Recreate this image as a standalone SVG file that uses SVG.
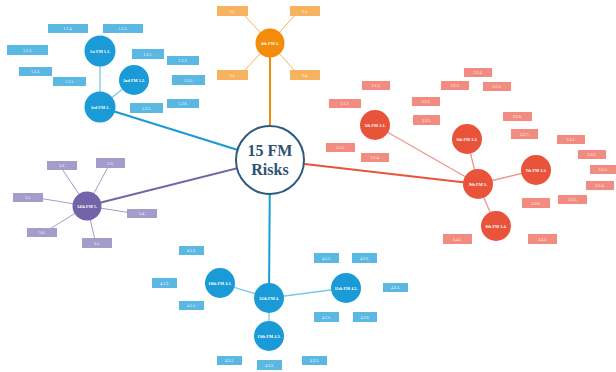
<svg xmlns="http://www.w3.org/2000/svg" width="616" height="372" viewBox="0 0 616 372">
<style>
.bg{fill:#ffffff}
.main{fill:none;stroke-width:2}
.sub{fill:none;stroke-width:1.3}
.cb{fill:#1a9bd7}.cr{fill:#e8533a}.co{fill:#f28c0a}.cp{fill:#7264a8}
.bb{fill:#5ab8e2}.br{fill:#f28b80}.bo{fill:#f7b25f}.bp{fill:#a59ccc}
.ct{font-family:"Liberation Serif",serif;font-weight:bold;font-size:4.3px;fill:#fff;text-anchor:middle;dominant-baseline:central}
.bt{font-family:"Liberation Serif",serif;font-size:4px;fill:#fff;text-anchor:middle;dominant-baseline:central}
.hub{fill:#fff;stroke:#2d5a80;stroke-width:2}
.ht{font-family:"Liberation Serif",serif;font-weight:bold;font-size:16px;fill:#2d5273;text-anchor:middle}
</style>
<rect class="bg" x="0" y="0" width="616" height="372"/>
<g id="connectors">
  <line class="main" stroke="#1a9bd7" x1="100" y1="107" x2="270" y2="160"/>
  <line class="main" stroke="#7264a8" x1="87" y1="206" x2="270" y2="160"/>
  <line class="main" stroke="#e8533a" x1="270" y1="160" x2="478" y2="184"/>
  <line class="main" stroke="#f28c0a" x1="270" y1="43" x2="270" y2="160"/>
  <line class="main" stroke="#1a9bd7" x1="270" y1="160" x2="269" y2="298"/>
  <g stroke="#7cc6e8" class="sub">
    <line x1="100" y1="107" x2="100" y2="51"/>
    <line x1="100" y1="107" x2="134" y2="80"/>
    <line x1="269" y1="298" x2="220" y2="283"/>
    <line x1="269" y1="298" x2="346" y2="288"/>
    <line x1="269" y1="298" x2="269" y2="336"/>
  </g>
  <g stroke="#f0958a" class="sub">
    <line x1="478" y1="184" x2="375" y2="125"/>
    <line x1="478" y1="184" x2="467" y2="139"/>
    <line x1="478" y1="184" x2="536" y2="170"/>
    <line x1="478" y1="184" x2="496" y2="226"/>
  </g>
  <g stroke="#f7b25f" stroke-width="1" fill="none">
    <line x1="270" y1="43" x2="244" y2="15"/>
    <line x1="270" y1="43" x2="295" y2="15"/>
    <line x1="270" y1="43" x2="244" y2="71"/>
    <line x1="270" y1="43" x2="295" y2="71"/>
  </g>
  <g stroke="#a59ccc" stroke-width="1" fill="none">
    <line x1="87" y1="206" x2="62" y2="169"/>
    <line x1="87" y1="206" x2="108" y2="167"/>
    <line x1="87" y1="206" x2="38" y2="198"/>
    <line x1="87" y1="206" x2="132" y2="213"/>
    <line x1="87" y1="206" x2="48" y2="230"/>
    <line x1="87" y1="206" x2="95" y2="240"/>
  </g>
</g>
<g id="hub">
  <circle class="hub" cx="270" cy="160" r="34"/>
  <text class="ht" x="270" y="156">15 FM</text>
  <text class="ht" x="270" y="175">Risks</text>
</g>
<g id="n1"><circle class="cb" cx="100" cy="51" r="15.5"/><text class="ct" x="100" y="51">1st FM 1.1.</text></g>
<g id="n2"><circle class="cb" cx="134" cy="80" r="15"/><text class="ct" x="134" y="80">2nd FM 1.2.</text></g>
<g id="n3"><circle class="cb" cx="100" cy="107" r="15.5"/><text class="ct" x="100" y="107">3rd FM 1.</text></g>
<g id="n4"><circle class="co" cx="270" cy="43" r="14.5"/><text class="ct" x="270" y="43">4th FM 2.</text></g>
<g id="n5"><circle class="cr" cx="375" cy="125" r="15"/><text class="ct" x="375" y="125">5th FM 3.1.</text></g>
<g id="n6"><circle class="cr" cx="467" cy="139" r="15"/><text class="ct" x="467" y="139">6th FM 3.2.</text></g>
<g id="n7"><circle class="cr" cx="536" cy="170" r="15"/><text class="ct" x="536" y="170">7th FM 3.3.</text></g>
<g id="n8"><circle class="cr" cx="496" cy="226" r="15"/><text class="ct" x="496" y="226">8th FM 3.4.</text></g>
<g id="n9"><circle class="cr" cx="478" cy="184" r="15"/><text class="ct" x="478" y="184">9th FM 3.</text></g>
<g id="n10"><circle class="cb" cx="220" cy="283" r="15"/><text class="ct" x="220" y="283">10th FM 4.1.</text></g>
<g id="n11"><circle class="cb" cx="346" cy="288" r="15"/><text class="ct" x="346" y="288">11th FM 4.2.</text></g>
<g id="n12"><circle class="cb" cx="269" cy="298" r="15"/><text class="ct" x="269" y="298">12th FM 4.</text></g>
<g id="n13"><circle class="cb" cx="269" cy="336" r="15"/><text class="ct" x="269" y="336">13th FM 4.3.</text></g>
<g id="n14"><circle class="cp" cx="87" cy="206" r="14.5"/><text class="ct" x="87" y="206">14th FM 5.</text></g>

<g id="b114"><rect class="bb" x="48" y="24" width="40" height="9"/><text class="bt" x="68" y="28.5">1.1.4.</text></g>
<g id="b115"><rect class="bb" x="103" y="24" width="40" height="9"/><text class="bt" x="123" y="28.5">1.1.5.</text></g>
<g id="b113"><rect class="bb" x="7" y="45" width="41" height="10"/><text class="bt" x="27.5" y="50">1.1.3.</text></g>
<g id="b112"><rect class="bb" x="19" y="67" width="33" height="9"/><text class="bt" x="35.5" y="71.5">1.1.2.</text></g>
<g id="b111"><rect class="bb" x="53" y="77" width="33" height="9"/><text class="bt" x="69.5" y="81.5">1.1.1.</text></g>
<g id="b121"><rect class="bb" x="132" y="49" width="32" height="10"/><text class="bt" x="148" y="54">1.2.1.</text></g>
<g id="b122"><rect class="bb" x="167" y="56" width="32" height="9"/><text class="bt" x="183" y="60.5">1.2.2.</text></g>
<g id="b123"><rect class="bb" x="172" y="75" width="33" height="10"/><text class="bt" x="188.5" y="80">1.2.3.</text></g>
<g id="b125"><rect class="bb" x="130" y="103" width="33" height="10"/><text class="bt" x="146.5" y="108">1.2.5.</text></g>
<g id="b126"><rect class="bb" x="167" y="99" width="32" height="9"/><text class="bt" x="183" y="103.5">1.2.6.</text></g>

<g id="b22"><rect class="bo" x="217" y="6" width="31" height="10"/><text class="bt" x="232.5" y="11">2.2.</text></g>
<g id="b23"><rect class="bo" x="290" y="6" width="30" height="10"/><text class="bt" x="305" y="11">2.3.</text></g>
<g id="b21"><rect class="bo" x="217" y="70" width="31" height="10"/><text class="bt" x="232.5" y="75">2.1.</text></g>
<g id="b24"><rect class="bo" x="290" y="70" width="30" height="10"/><text class="bt" x="305" y="75">2.4.</text></g>

<g id="b313"><rect class="br" x="362" y="81" width="28" height="9"/><text class="bt" x="376" y="85.5">3.1.3.</text></g>
<g id="b312"><rect class="br" x="329" y="99" width="32" height="9"/><text class="bt" x="345" y="103.5">3.1.2.</text></g>
<g id="b322"><rect class="br" x="412" y="97" width="28" height="9"/><text class="bt" x="426" y="101.5">3.2.2.</text></g>
<g id="b323"><rect class="br" x="441" y="81" width="28" height="9"/><text class="bt" x="455" y="85.5">3.2.3.</text></g>
<g id="b321"><rect class="br" x="413" y="115" width="27" height="10"/><text class="bt" x="426.5" y="120">3.2.1.</text></g>
<g id="b311"><rect class="br" x="326" y="143" width="29" height="9"/><text class="bt" x="340.5" y="147.5">3.1.1.</text></g>
<g id="b314"><rect class="br" x="361" y="153" width="28" height="9"/><text class="bt" x="375" y="157.5">3.1.4.</text></g>
<g id="b324"><rect class="br" x="464" y="68" width="28" height="9"/><text class="bt" x="478" y="72.5">3.2.4.</text></g>
<g id="b325"><rect class="br" x="483" y="82" width="28" height="9"/><text class="bt" x="497" y="86.5">3.2.5.</text></g>
<g id="b326"><rect class="br" x="503" y="112" width="29" height="9"/><text class="bt" x="517.5" y="116.5">3.2.6.</text></g>
<g id="b327"><rect class="br" x="511" y="129" width="27" height="10"/><text class="bt" x="524.5" y="134">3.2.7.</text></g>
<g id="b331"><rect class="br" x="557" y="135" width="28" height="9"/><text class="bt" x="571" y="139.5">3.3.1.</text></g>
<g id="b332"><rect class="br" x="578" y="150" width="28" height="9"/><text class="bt" x="592" y="154.5">3.3.2.</text></g>
<g id="b333"><rect class="br" x="590" y="165" width="26" height="9"/><text class="bt" x="603" y="169.5">3.3.3.</text></g>
<g id="b334"><rect class="br" x="586" y="181" width="28" height="9"/><text class="bt" x="600" y="185.5">3.3.4.</text></g>
<g id="b335"><rect class="br" x="558" y="195" width="29" height="9"/><text class="bt" x="572.5" y="199.5">3.3.5.</text></g>
<g id="b336"><rect class="br" x="522" y="198" width="28" height="10"/><text class="bt" x="536" y="203">3.3.6.</text></g>
<g id="b341"><rect class="br" x="443" y="234" width="29" height="10"/><text class="bt" x="457.5" y="239">3.4.1.</text></g>
<g id="b342"><rect class="br" x="528" y="234" width="29" height="10"/><text class="bt" x="542.5" y="239">3.4.2.</text></g>

<g id="b413"><rect class="bb" x="179" y="246" width="25" height="9"/><text class="bt" x="191.5" y="250.5">4.1.3.</text></g>
<g id="b412"><rect class="bb" x="152" y="278" width="25" height="10"/><text class="bt" x="164.5" y="283">4.1.2.</text></g>
<g id="b411"><rect class="bb" x="179" y="301" width="25" height="9"/><text class="bt" x="191.5" y="305.5">4.1.1.</text></g>
<g id="b431"><rect class="bb" x="217" y="356" width="25" height="9"/><text class="bt" x="229.5" y="360.5">4.3.1.</text></g>
<g id="b432"><rect class="bb" x="257" y="360" width="25" height="10"/><text class="bt" x="269.5" y="365">4.3.2.</text></g>
<g id="b433"><rect class="bb" x="302" y="356" width="25" height="9"/><text class="bt" x="314.5" y="360.5">4.3.3.</text></g>
<g id="b421"><rect class="bb" x="314" y="253" width="25" height="10"/><text class="bt" x="326.5" y="258">4.2.1.</text></g>
<g id="b422"><rect class="bb" x="352" y="253" width="25" height="10"/><text class="bt" x="364.5" y="258">4.2.2.</text></g>
<g id="b423"><rect class="bb" x="383" y="283" width="25" height="9"/><text class="bt" x="395.5" y="287.5">4.2.3.</text></g>
<g id="b425"><rect class="bb" x="314" y="312" width="25" height="10"/><text class="bt" x="326.5" y="317">4.2.5.</text></g>
<g id="b426"><rect class="bb" x="353" y="312" width="24" height="10"/><text class="bt" x="365" y="317">4.2.6.</text></g>

<g id="b52"><rect class="bp" x="47" y="161" width="30" height="9"/><text class="bt" x="62" y="165.5">5.2.</text></g>
<g id="b53"><rect class="bp" x="96" y="158" width="29" height="10"/><text class="bt" x="110.5" y="163">5.3.</text></g>
<g id="b51"><rect class="bp" x="13" y="193" width="30" height="9"/><text class="bt" x="28" y="197.5">5.1.</text></g>
<g id="b54"><rect class="bp" x="127" y="209" width="30" height="9"/><text class="bt" x="142" y="213.5">5.4.</text></g>
<g id="b56"><rect class="bp" x="27" y="228" width="30" height="9"/><text class="bt" x="42" y="232.5">5.6.</text></g>
<g id="b55"><rect class="bp" x="82" y="238" width="30" height="10"/><text class="bt" x="97" y="243">5.5.</text></g>
</svg>
